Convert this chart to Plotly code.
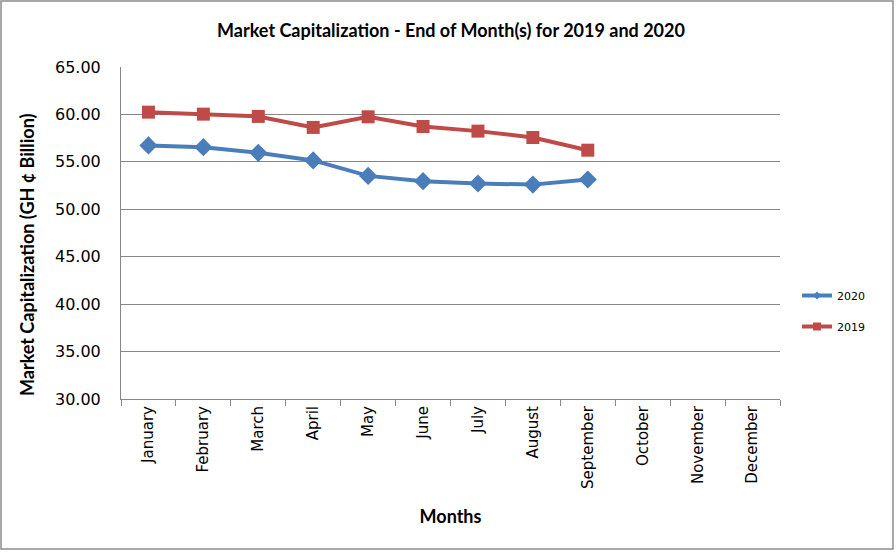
import plotly.graph_objects as go

months = ["January", "February", "March", "April", "May", "June",
          "July", "August", "September", "October", "November", "December"]
cap_2020 = [56.73, 56.55, 55.95, 55.15, 53.52, 52.96, 52.72, 52.60, 53.14]
cap_2019 = [60.24, 60.03, 59.79, 58.63, 59.75, 58.73, 58.24, 57.57, 56.23]
y_ticks = [30, 35, 40, 45, 50, 55, 60, 65]

W, H = 896, 552
L, R, T, B = 121, 116, 67, 153
pw, ph = W - L - R, H - T - B

BLUE, RED = "#4A7EBB", "#BE4B48"

fig = go.Figure()
fig.add_trace(go.Scatter(
    x=months[:len(cap_2020)], y=cap_2020, name="2020", mode="lines+markers",
    line=dict(color=BLUE, width=4),
    marker=dict(symbol="diamond", size=14, color=BLUE),
    showlegend=False))
fig.add_trace(go.Scatter(
    x=months[:len(cap_2019)], y=cap_2019, name="2019", mode="lines+markers",
    line=dict(color=RED, width=4),
    marker=dict(symbol="square", size=13, color=RED),
    showlegend=False))

# legend-only entries with small markers, like the original
fig.add_trace(go.Scatter(x=[None], y=[None], name="2020", mode="lines+markers",
                         line=dict(color=BLUE, width=4),
                         marker=dict(symbol="diamond", size=6, color=BLUE),
                         legendgroup="a"))
fig.add_trace(go.Scatter(x=[None], y=[None], name="2019", mode="lines+markers",
                         line=dict(color=RED, width=4),
                         marker=dict(symbol="square", size=8, color=RED),
                         legendgroup="b"))

# outer chart border
fig.add_shape(type="rect", xref="paper", yref="paper",
              x0=(1 - L) / pw, x1=(W - 3 - L) / pw,
              y0=(H - B - (H - 3)) / ph, y1=(H - B - 1) / ph,
              line=dict(color="#8c8c8c", width=1.5), fillcolor="rgba(0,0,0,0)")

# y-axis title, placed like the original (slightly below plot centre)
fig.add_annotation(text="<b>Market Capitalization (GH ¢ Billion)</b>",
                   xref="paper", yref="paper", x=(27 - L) / pw, y=(H - B - 255) / ph,
                   xanchor="center", yanchor="middle", textangle=-90, showarrow=False,
                   font=dict(family="Lato", size=18))

fig.update_layout(
    width=W, height=H,
    margin=dict(l=L, r=R, t=T, b=B),
    paper_bgcolor="white", plot_bgcolor="white",
    font=dict(family="DejaVu Sans", color="black"),
    title=dict(text="<b>Market Capitalization - End of Month(s) for 2019 and 2020</b>",
               font=dict(family="Lato", size=18), x=451 / W, xanchor="center",
               y=1 - 31 / H, yanchor="middle"),
    legend=dict(x=(797 - L) / pw, xanchor="left", y=(H - B - 311) / ph, yanchor="middle",
                font=dict(family="DejaVu Sans", size=11), tracegroupgap=12,
                bgcolor="rgba(0,0,0,0)"),
    showlegend=True,
)
fig.update_xaxes(
    type="category", categoryorder="array", categoryarray=months,
    range=[-0.5, 11.5], tickangle=-90, tickfont=dict(size=15),
    showline=True, linecolor="#868686", linewidth=1,
    ticks="outside", tickson="boundaries", ticklen=6, tickcolor="#868686",
    showgrid=False,
    title=dict(text="<b>Months</b>", font=dict(family="Lato", size=18), standoff=22),
)
fig.update_yaxes(
    range=[30, 65], tickvals=y_ticks, ticktext=[f"{v:.2f}" for v in y_ticks],
    tickfont=dict(size=16), ticks="", ticklabelstandoff=16,
    showline=True, linecolor="#868686", linewidth=1,
    showgrid=True, gridcolor="#868686", gridwidth=1, zeroline=False,
)

fig.write_html("out.html", config={"displayModeBar": False},
               post_script="document.body.style.margin='0';")
